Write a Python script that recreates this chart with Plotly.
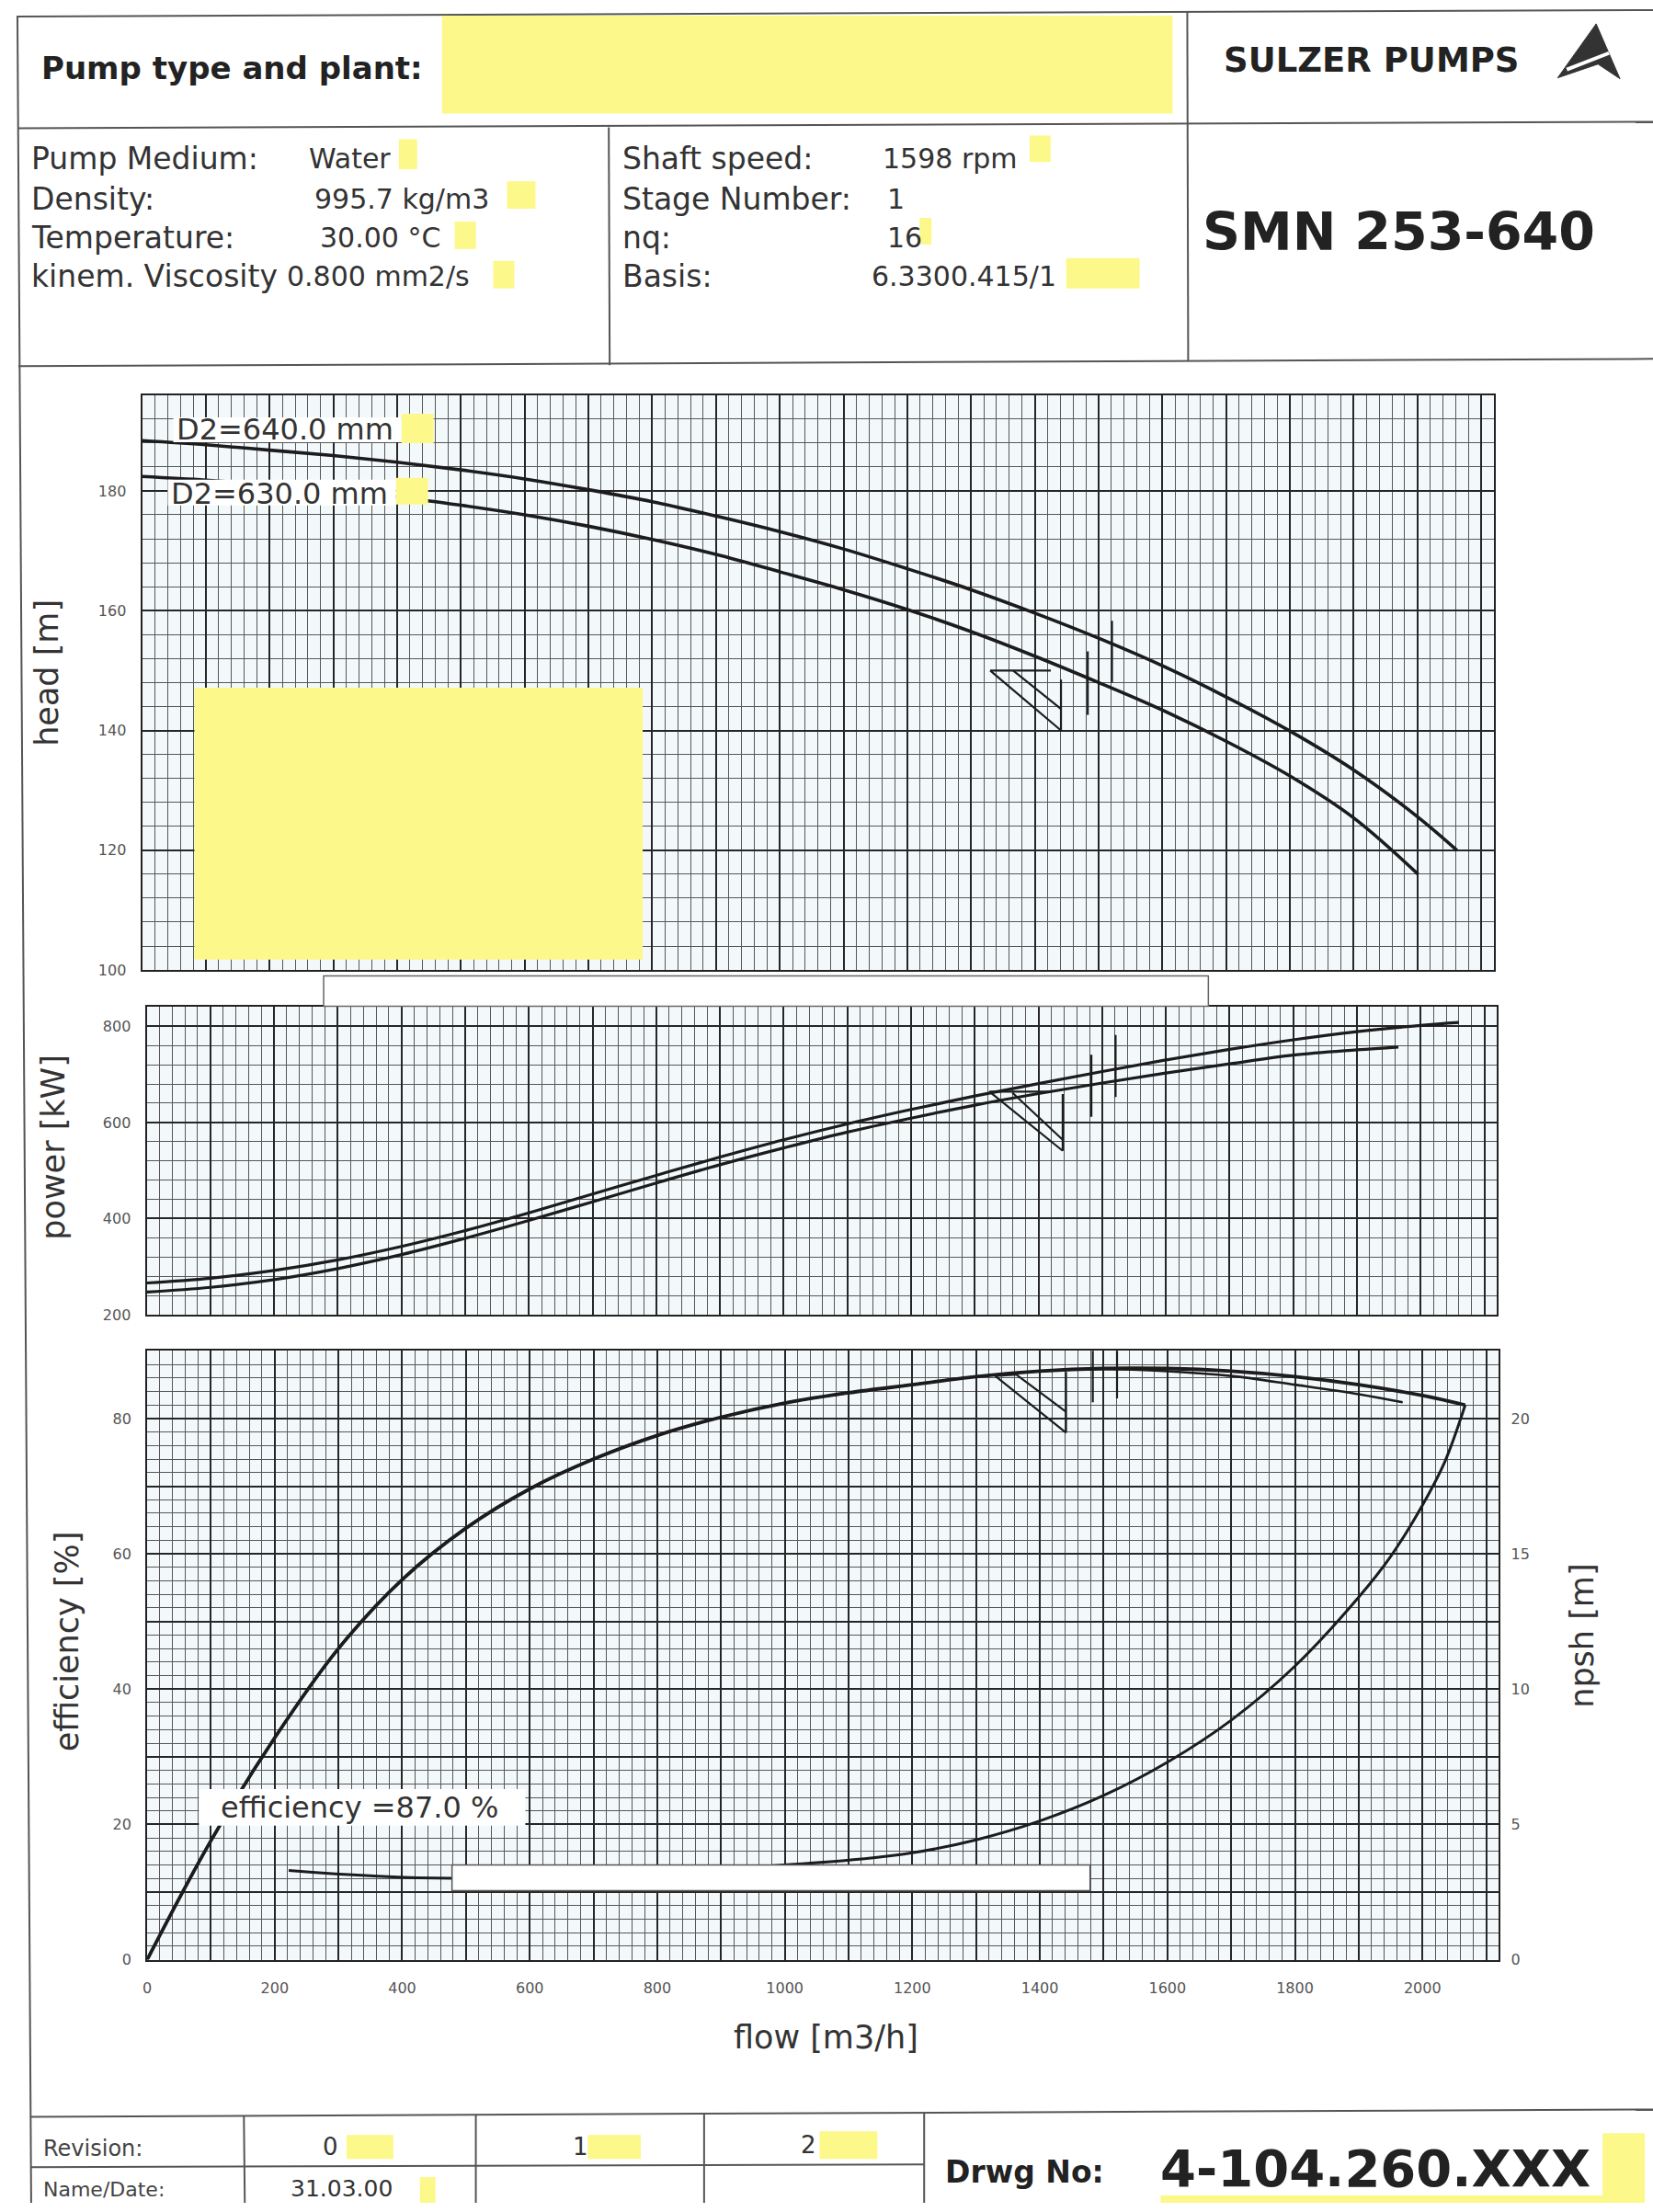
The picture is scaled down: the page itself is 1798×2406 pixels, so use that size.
import plotly.graph_objects as go

W, H = 1798, 2406

# ---------------- data ----------------
x_tick_labels = ["0", "200", "400", "600", "800", "1000", "1200", "1400", "1600", "1800", "2000"]

flow_h640 = [0, 100, 200, 300, 400, 500, 600, 700, 800, 900, 1000, 1100, 1200, 1300, 1400,
             1500, 1600, 1700, 1800, 1900, 2000, 2062]
head_640 = [188.4, 187.7, 186.8, 185.9, 184.8, 183.5, 182.0, 180.2, 178.2, 175.8, 173.2, 170.3,
            167.0, 163.5, 159.6, 155.4, 150.8, 145.6, 139.9, 133.4, 125.6, 120.0]
flow_h630 = [0, 100, 200, 300, 400, 500, 600, 700, 800, 900, 1000, 1100, 1200, 1300, 1400,
             1500, 1600, 1700, 1800, 1900, 2001]
head_630 = [182.4, 181.8, 181.0, 180.1, 179.0, 177.6, 176.0, 174.1, 171.9, 169.4, 166.5, 163.5,
            160.2, 156.5, 152.4, 148.0, 143.4, 138.2, 132.4, 125.4, 116.0]

flow_p640 = [0, 100, 200, 300, 400, 500, 600, 700, 800, 900, 1000, 1100, 1200, 1300,
             1400, 1500, 1600, 1700, 1800, 1900, 2000, 2060]
power_640 = [266, 276, 292, 314, 342, 375, 412, 451, 490, 528, 564, 597, 627, 655,
             681, 706, 730, 752, 772, 789, 802, 808]
flow_p630 = [0, 100, 200, 300, 400, 500, 600, 700, 800, 900, 1000, 1100, 1200, 1300,
             1400, 1500, 1600, 1700, 1800, 1900, 1965]
power_630 = [247, 257, 273, 296, 325, 359, 396, 435, 474, 512, 547, 580, 609, 636,
             660, 682, 703, 722, 740, 751, 757]

flow_e640 = [0, 100, 200, 300, 400, 500, 600, 700, 800, 900, 1000, 1100, 1200, 1300,
             1400, 1500, 1600, 1700, 1800, 1900, 2000, 2067]
eff_640 = [0, 17.6, 32.8, 46.0, 56.2, 63.8, 69.6, 74.0, 77.5, 80.2, 82.3, 83.8, 85.0, 86.2,
           87.0, 87.4, 87.4, 87.0, 86.2, 85.0, 83.4, 82.0]
flow_e630 = [0, 100, 200, 300, 400, 500, 600, 700, 800, 900, 1000, 1100, 1200, 1300,
             1400, 1500, 1600, 1700, 1800, 1900, 1969]
eff_630 = [0, 17.6, 32.8, 46.0, 56.2, 63.8, 69.6, 74.0, 77.5, 80.2, 82.3, 83.8, 85.0, 86.2,
           87.0, 87.3, 87.0, 86.3, 85.0, 83.6, 82.4]

flow_npsh = [222, 478, 1071, 1200, 1300, 1400, 1500, 1600, 1700, 1800, 1900, 1950, 2000, 2035, 2067]
npsh_m = [3.30, 3.01, 3.62, 3.95, 4.43, 5.13, 6.07, 7.30, 8.85, 10.85, 13.4, 14.9, 16.8, 18.4, 20.5]

# best-efficiency markers (flow, value from, value to)
bep_flow = [1483, 1521]
bep_head = [[142.6, 153.2], [148.0, 158.3]]
bep_power = [[612, 741], [653, 782]]
bep_eff = [[82.4, 92.0], [83.0, 92.0]]

# duty-range triangles
duty_head_q = [1330, 1425, None, 1330, 1441, None, 1366, 1441, None, 1441, 1441]
duty_head_v = [150, 150, None, 150, 140, None, 150, 143.6, None, 148.5, 140]
duty_power_q = [1323, 1420, None, 1323, 1438, None, 1359, 1438, None, 1438, 1438]
duty_power_v = [664, 664, None, 664, 541, None, 662, 564, None, 659, 541]
duty_eff_q = [1330, 1363, None, 1330, 1441, None, 1363, 1441, None, 1441, 1441]
duty_eff_v = [86.3, 86.5, None, 86.3, 77.9, None, 86.5, 81.0, None, 86.9, 77.9]

FONT = "DejaVu Sans"
CURVE = "#1c1c1c"
MAJ = "#262626"
MIN = "#575757"
BG = "#f3f9fb"
YEL = "#fcf88a"


def px(x):
    return x / W


def py(y):
    return 1 - y / H


fig = go.Figure()


def curve(x, y, xa, ya, width=3.6):
    fig.add_trace(go.Scatter(x=x, y=y, mode="lines", xaxis=xa, yaxis=ya,
                             line=dict(color=CURVE, width=width, shape="spline", smoothing=1.0),
                             hoverinfo="skip", showlegend=False))


def segs(xs, ys, xa, ya, width=2.2):
    fig.add_trace(go.Scatter(x=xs, y=ys, mode="lines", xaxis=xa, yaxis=ya,
                             line=dict(color=CURVE, width=width), connectgaps=False,
                             hoverinfo="skip", showlegend=False))


def bep(ranges, xa, ya):
    bx, by = [], []
    for q, (a, b) in zip(bep_flow, ranges):
        bx += [q, q, None]
        by += [a, b, None]
    segs(bx, by, xa, ya)


# head
curve(flow_h640, head_640, "x", "y")
curve(flow_h630, head_630, "x", "y")
segs(duty_head_q, duty_head_v, "x", "y")
bep(bep_head, "x", "y")

# power
curve(flow_p640, power_640, "x2", "y2", width=3.2)
curve(flow_p630, power_630, "x2", "y2", width=3.2)
segs(duty_power_q, duty_power_v, "x2", "y2")
bep(bep_power, "x2", "y2")

# efficiency + npsh
curve(flow_e640, eff_640, "x3", "y3", width=3.8)
curve(flow_e630, eff_630, "x3", "y3", width=2.6)
segs(duty_eff_q, duty_eff_v, "x3", "y3")
bep(bep_eff, "x3", "y3")
curve(flow_npsh, npsh_m, "x3", "y4", width=3.0)

tickfont = dict(family=FONT, size=16, color="#555")


def xaxis(dom, labels):
    vals = list(range(0, 2101, 100))
    txt = [str(v) if (labels and str(v) in x_tick_labels) else "" for v in vals]
    return dict(domain=[px(dom[0]), px(dom[1])], range=[0, 2120], tickmode="array",
                tickvals=vals, ticktext=txt, showticklabels=labels, ticks="",
                showgrid=True, gridcolor=MAJ, gridwidth=1.7,
                minor=dict(tick0=0, dtick=20, showgrid=True, gridcolor=MIN, gridwidth=0.8),
                showline=True, mirror=True, linecolor="#222", linewidth=2,
                zeroline=False, tickfont=tickfont, ticklabelstandoff=15)


def yaxis(top, bot, rng, vals, txt, minor):
    return dict(domain=[py(bot), py(top)], range=rng, tickmode="array", tickvals=vals,
                ticktext=txt, ticks="", showgrid=True, gridcolor=MAJ, gridwidth=1.7,
                minor=dict(tick0=rng[0], dtick=minor, showgrid=True, gridcolor=MIN, gridwidth=0.8),
                showline=True, mirror=True, linecolor="#222", linewidth=2,
                zeroline=False, tickfont=tickfont, ticklabelstandoff=12)


head_ticks = [100, 120, 140, 160, 180]
power_ticks = [200, 400, 600, 800]
eff_ticks = list(range(0, 91, 10))
eff_text = [str(v) if v % 20 == 0 else "" for v in eff_ticks]
npsh_ticks = [0, 5, 10, 15, 20]

fig.update_layout(
    width=W, height=H, margin=dict(l=0, r=0, t=0, b=0),
    paper_bgcolor="white", plot_bgcolor=BG, showlegend=False,
    xaxis=dict(xaxis((150, 1624.5), False), anchor="y"),
    yaxis=dict(yaxis(431.5, 1059.5, [100, 196], head_ticks, [str(v) for v in head_ticks], 4), anchor="x"),
    xaxis2=dict(xaxis((155, 1628), False), anchor="y2"),
    yaxis2=dict(yaxis(1100, 1436, [200, 840], power_ticks, [str(v) for v in power_ticks], 40), anchor="x2"),
    xaxis3=dict(xaxis((155.5, 1630), True), anchor="y3"),
    yaxis3=dict(yaxis(1475.5, 2140.5, [0, 90], eff_ticks, eff_text, 2), anchor="x3"),
    yaxis4=dict(overlaying="y3", anchor="x3", side="right", range=[0, 22.5], tickmode="array",
                tickvals=npsh_ticks, ticktext=[str(v) for v in npsh_ticks], showgrid=False,
                zeroline=False, showline=False, ticks="", tickfont=tickfont, ticklabelstandoff=12),
)

shapes = []
annots = []


def line(x0, y0, x1, y1, color="#555", width=2):
    shapes.append(dict(type="line", xref="paper", yref="paper", x0=px(x0), y0=py(y0),
                       x1=px(x1), y1=py(y1), line=dict(color=color, width=width), layer="above"))


def rect(x0, y0, x1, y1, fill, lc=None, lw=0):
    shapes.append(dict(type="rect", xref="paper", yref="paper", x0=px(x0), y0=py(y1),
                       x1=px(x1), y1=py(y0), fillcolor=fill,
                       line=dict(color=lc or fill, width=lw), layer="above"))


def text(x, y, s, size, bold=False, anchor="left", color="#222", angle=0):
    annots.append(dict(xref="paper", yref="paper", x=px(x), y=py(y), text=s, showarrow=False,
                       xanchor=anchor, yanchor="middle", textangle=angle,
                       font=dict(family=FONT, size=size, color=color,
                                 weight="bold" if bold else "normal")))


# ---- page frame / header table ----
line(15, 18, 1798, 11)
line(15, 140, 1798, 133)
line(15, 400, 1798, 392)
line(14, 17, 29, 2406)
line(659, 139, 660, 399)
line(1290, 13, 1291, 394)

rect(477, 17, 1274, 124, YEL)
text(38, 74, "Pump type and plant:", 34, bold=True)
text(1328, 66, "SULZER PUMPS", 37, bold=True)
# logo
shapes.append(dict(type="path", xref="paper", yref="paper", layer="above",
                   path=(f"M {px(1694)},{py(85)} L {px(1736)},{py(26)} L {px(1762)},{py(86)} "
                         f"L {px(1738)},{py(70)} Z"),
                   fillcolor="#333", line=dict(color="#333", width=1)))
line(1704, 76, 1750, 58, color="white", width=4)

rows_y = [173, 217, 260, 302]
labels1 = ["Pump Medium:", "Density:", "Temperature:", "kinem. Viscosity"]
values1 = ["Water", "995.7 kg/m3", "30.00 °C", "0.800 mm2/s"]
vals1_x = [330, 336, 342, 306]
labels2 = ["Shaft speed:", "Stage Number:", "nq:", "Basis:"]
values2 = ["1598 rpm", "1", "16", "6.3300.415/1"]
vals2_x = [956, 961, 961, 944]
for yv, a, b, bx0 in zip(rows_y, labels1, values1, vals1_x):
    text(27, yv, a, 33, color="#333")
    text(bx0, yv, b, 30, color="#333")
for yv, a, b, bx0 in zip(rows_y, labels2, values2, vals2_x):
    text(672, yv, a, 33, color="#333")
    text(bx0, yv, b, 30, color="#333")
# small yellow marks
for (x0, y0, x1, y1) in [(430, 152, 450, 185), (548, 198, 579, 228), (491, 242, 514, 272),
                         (533, 285, 556, 315), (1118, 148, 1141, 177), (998, 238, 1011, 267),
                         (1158, 282, 1238, 315)]:
    rect(x0, y0, x1, y1, YEL)
text(1305, 253, "SMN 253-640", 57, bold=True)

# ---- chart overlays ----
rect(207, 751, 696, 1048, YEL)
rect(184, 456, 433, 483, "white")
rect(433, 452, 468, 484, YEL)
text(186, 469, "D2=640.0 mm", 32, color="#333")
rect(178, 524, 427, 552, "white")
rect(427, 522, 462, 551, YEL)
text(179, 539, "D2=630.0 mm", 32, color="#333")

rect(348, 1066, 1313, 1099, "white", lc="#666", lw=1.5)
rect(212, 1954, 568, 1994, "white")
text(234, 1974, "efficiency =87.0 %", 32, color="#333")
rect(488, 2037, 1184, 2065, "white", lc="#555", lw=1.5)

# axis titles
text(46, 735, "head [m]", 35, anchor="center", color="#333", angle=-90)
text(53, 1253, "power [kW]", 35, anchor="center", color="#333", angle=-90)
text(68, 1793, "efficiency [%]", 35, anchor="center", color="#333", angle=-90)
text(1720, 1787, "npsh [m]", 35, anchor="center", color="#333", angle=-90)
text(896, 2225, "flow [m3/h]", 35, anchor="center", color="#333")

# ---- footer ----
line(28, 2312, 1798, 2304)
line(261, 2311, 262, 2406)
line(514, 2310, 514, 2406)
line(763, 2309, 763, 2406)
line(1003, 2308, 1003, 2406)
line(28, 2367, 1003, 2364)
rect(373, 2332, 424, 2358, YEL)
rect(636, 2332, 694, 2358, YEL)
rect(889, 2328, 952, 2358, YEL)
rect(453, 2378, 470, 2406, YEL)
rect(1743, 2330, 1789, 2406, YEL)
rect(1261, 2398, 1755, 2406, YEL)
text(40, 2347, "Revision:", 24, color="#444")
text(355, 2345, "0", 26, anchor="center", color="#333")
text(628, 2345, "1", 26, anchor="center", color="#333")
text(877, 2343, "2", 26, anchor="center", color="#333")
text(40, 2391, "Name/Date:", 22, color="#444")
text(310, 2390, "31.03.00", 25, color="#333")
text(1024, 2372, "Drwg No:", 33, bold=True, color="#222")
text(1259, 2368, "4-104.260.XXX", 56, bold=True, color="#222")

fig.update_layout(shapes=shapes, annotations=annots)
fig.write_html("out.html")
